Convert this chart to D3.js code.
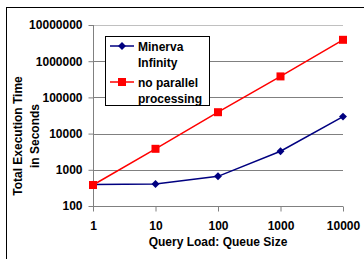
<!DOCTYPE html>
<html><head><meta charset="utf-8">
<script src="https://cdn.jsdelivr.net/npm/d3@7"></script>
<style>body{margin:0;background:#fff}svg{display:block}text{font-family:"Liberation Sans",Arial,sans-serif;font-weight:bold}</style>
</head><body>
<script>
const queueSizes = [1, 10, 100, 1000, 10000];
const minerva = [390, 405, 660, 3250, 29500];
const noParallel = [380, 3800, 39000, 380000, 3900000];
const yTicks = [100, 1000, 10000, 100000, 1000000, 10000000];
const seriesNames = [["Minerva", "Infinity"], ["no parallel", "processing"]];

const W = 364, H = 259;
const svg = d3.select("body").append("svg").attr("width", W).attr("height", H);

// outer frame
svg.append("rect").attr("x", 6.5).attr("y", 7.5).attr("width", 420).attr("height", 320)
  .attr("fill", "none").attr("stroke", "#000").attr("stroke-width", 1);

const x = d3.scaleLog().domain([1, 10000]).range([93, 343]);
const y = d3.scaleLog().domain([100, 10000000]).range([206, 25]);

// gridlines
svg.append("g").selectAll("line").data(yTicks.filter(d => d > 100)).join("line")
  .attr("x1", 93).attr("x2", 343)
  .attr("y1", d => Math.round(y(d)) + 0.5).attr("y2", d => Math.round(y(d)) + 0.5)
  .attr("stroke", d => d === 10000000 ? "#c0c0c0" : "#808080").attr("stroke-width", 1);

// y axis
const yAxis = d3.axisLeft(y).tickValues(yTicks).tickFormat(d3.format("d")).tickSize(5).tickPadding(6);
const gy = svg.append("g").attr("transform", "translate(93.5,0)").call(yAxis);
gy.selectAll("path,line").attr("stroke", "#808080");
gy.select(".domain").attr("d", `M0,${y(10000000)}V${y(100)}`);
gy.selectAll("text").attr("font-size", 12).attr("fill", "#000").attr("font-family", "Liberation Sans, Arial, sans-serif").attr("font-weight", "bold");

// x axis
const xAxis = d3.axisBottom(x).tickValues(queueSizes).tickFormat(d3.format("d")).tickSize(5).tickPadding(10);
const gx = svg.append("g").attr("transform", "translate(0,206.5)").call(xAxis);
gx.selectAll("path,line").attr("stroke", "#808080");
gx.select(".domain").attr("d", `M${x(1)},0H${x(10000)}`);
gx.selectAll("text").attr("font-size", 12).attr("fill", "#000").attr("font-family", "Liberation Sans, Arial, sans-serif").attr("font-weight", "bold");

// axis titles
svg.append("text").attr("x", 218).attr("y", 246).attr("text-anchor", "middle")
  .attr("font-size", 12).text("Query Load: Queue Size");
const yt = svg.append("text").attr("transform", "translate(0,136) rotate(-90)").attr("text-anchor", "middle").attr("font-size", 12);
yt.append("tspan").attr("x", 0).attr("y", 22).text("Total Execution Time");
yt.append("tspan").attr("x", 0).attr("y", 39).text("in Seconds");

// lines
const line = d3.line().x((d, i) => x(queueSizes[i])).y(d => y(d));
svg.append("path").datum(minerva).attr("d", line).attr("fill", "none").attr("stroke", "#000080").attr("stroke-width", 1.5);
svg.append("path").datum(noParallel).attr("d", line).attr("fill", "none").attr("stroke", "#ff0000").attr("stroke-width", 1.5);

const diamond = d3.symbol().type(d3.symbolDiamond2).size(40);
svg.append("g").selectAll("path").data(minerva).join("path")
  .attr("transform", (d, i) => `translate(${x(queueSizes[i])},${y(d)})`)
  .attr("d", diamond).attr("fill", "#000080");
svg.append("g").selectAll("rect").data(noParallel).join("rect")
  .attr("x", (d, i) => x(queueSizes[i]) - 4).attr("y", d => y(d) - 4)
  .attr("width", 8).attr("height", 8).attr("fill", "#ff0000");

// legend
const lg = svg.append("g");
lg.append("rect").attr("x", 105.5).attr("y", 36.5).attr("width", 104).attr("height", 69)
  .attr("fill", "#fff").attr("stroke", "#000").attr("stroke-width", 1);
const colors = ["#000080", "#ff0000"];
const rowY = [46, 82];
seriesNames.forEach((names, i) => {
  lg.append("line").attr("x1", 110).attr("x2", 134).attr("y1", rowY[i]).attr("y2", rowY[i])
    .attr("stroke", colors[i]).attr("stroke-width", 1.5);
  if (i === 0) {
    lg.append("path").attr("transform", `translate(122,${rowY[i]})`).attr("d", diamond).attr("fill", colors[i]);
  } else {
    lg.append("rect").attr("x", 118).attr("y", rowY[i] - 4).attr("width", 8).attr("height", 8).attr("fill", colors[i]);
  }
  names.forEach((t, j) => {
    lg.append("text").attr("x", 138).attr("y", rowY[i] + 4.5 + j * 16).attr("font-size", 12).text(t);
  });
});
</script>
</body></html>
